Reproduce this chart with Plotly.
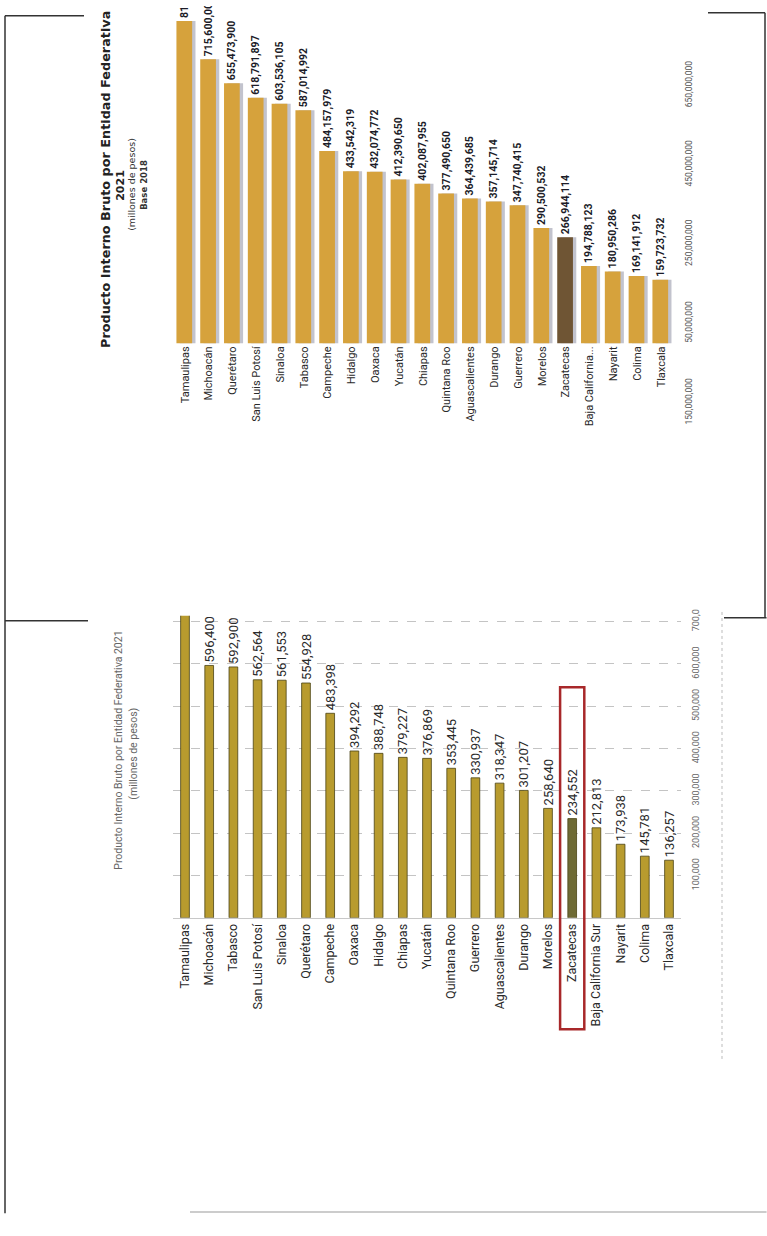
import plotly.graph_objects as go

W, H = 767, 1236

# ---------------- data ----------------
upper_states = ["Tamaulipas", "Michoacán", "Querétaro", "San Luis Potosí", "Sinaloa", "Tabasco",
                "Campeche", "Hidalgo", "Oaxaca", "Yucatán", "Chiapas", "Quintana Roo",
                "Aguascalientes", "Durango", "Guerrero", "Morelos", "Zacatecas",
                "Baja California...", "Nayarit", "Colima", "Tlaxcala"]
upper_values = [812000000, 715600000, 655473900, 618791897, 603536105, 587014992,
                484157979, 433542319, 432074772, 412390650, 402087955, 377490650,
                364439685, 357145714, 347740415, 290500532, 266944114,
                194788123, 180950286, 169141912, 159723732]
upper_tickvals = [-150000000, 50000000, 250000000, 450000000, 650000000, 850000000]
upper_ticktext = ["150,000,000", "50,000,000", "250,000,000", "450,000,000", "650,000,000", "850,000,000"]

lower_states = ["Tamaulipas", "Michoacán", "Tabasco", "San Luis Potosí", "Sinaloa", "Querétaro",
                "Campeche", "Oaxaca", "Hidalgo", "Chiapas", "Yucatán", "Quintana Roo",
                "Guerrero", "Aguascalientes", "Durango", "Morelos", "Zacatecas",
                "Baja California Sur", "Nayarit", "Colima", "Tlaxcala"]
lower_values = [718000, 596400, 592900, 562564, 561553, 554928,
                483398, 394292, 388748, 379227, 376869, 353445,
                330937, 318347, 301207, 258640, 234552,
                212813, 173938, 145781, 136257]
lower_tickvals = [100000, 200000, 300000, 400000, 500000, 600000, 700000]
lower_ticktext = ["100,000", "200,000", "300,000", "400,000", "500,000", "600,000", "700,0"]

highlight = "Zacatecas"

upper_title = "Producto Interno Bruto por Entidad Federativa"
upper_sub = ["2021", "(millones de pesos)", "Base 2018"]
lower_title = "Producto Interno Bruto por Entidad Federativa 2021"
lower_sub = "(millones de pesos)"

# ---------------- helpers (page pixels -> paper) ----------------
def px(x):
    return min(max(x / W, 0.0006), 0.9994)

def py(y):
    return min(max(1 - y / H, 0.0006), 0.9994)

up_colors = ["#6f5534" if s == highlight else "#d6a23c" for s in upper_states]
lo_colors = ["#6e6a34" if s == highlight else "#b89b2e" for s in lower_states]

fig = go.Figure()

fig.add_trace(go.Bar(
    x=upper_states, y=upper_values, xaxis="x", yaxis="y",
    width=0.66, offset=-0.22,
    marker=dict(color="rgba(120,122,145,0.45)", line=dict(width=0)),
    hoverinfo="skip", showlegend=False,
))
fig.add_trace(go.Bar(
    x=upper_states, y=upper_values, xaxis="x", yaxis="y",
    width=0.66, offset=-0.36,
    marker=dict(color=up_colors, line=dict(width=0)),
    texttemplate="%{y:,.0f}", textposition="outside", textangle=-90,
    constraintext="none", cliponaxis=True,
    textfont=dict(family="Roboto", size=10.5, color="#1c1c28", weight="bold"),
    showlegend=False,
))

fig.add_trace(go.Bar(
    x=lower_states, y=lower_values, xaxis="x2", yaxis="y2",
    width=0.36,
    marker=dict(color=lo_colors, line=dict(width=0.8, color="#4a4214")),
    texttemplate="%{y:,.0f}", textposition="outside", textangle=-90,
    constraintext="none", cliponaxis=True,
    textfont=dict(family="Roboto", size=13, color="#2a2a2a"),
    showlegend=False,
))

# upper value axis: 0 at page y=345, plot top at page y=0
up_top = 850000000
up_scale = 345 / (up_top / 1e6)          # px per million
up_bottom_y = 345 + 150 * up_scale

fig.update_layout(
    width=W, height=H,
    margin=dict(l=0, r=0, t=0, b=0),
    paper_bgcolor="white", plot_bgcolor="rgba(0,0,0,0)",
    barmode="overlay", showlegend=False, hovermode=False,
    xaxis=dict(
        domain=[px(173.1), px(672.9)], anchor="free", position=py(345),
        type="category", tickangle=-90, showgrid=False, showline=False, ticks="",
        tickfont=dict(family="Roboto", size=11, color="#2a2a2a"),
    ),
    yaxis=dict(
        domain=[py(up_bottom_y), 1.0], anchor="x", side="right",
        range=[-150000000, up_top],
        tickvals=upper_tickvals, ticktext=upper_ticktext, tickangle=-90,
        showgrid=False, zeroline=False, showline=False, ticks="",
        ticklabelstandoff=10,
        tickfont=dict(family="Roboto", size=8.5, color="#555"),
    ),
    xaxis2=dict(
        domain=[px(172.9), px(681.1)], anchor="y2",
        type="category", tickangle=-90, showgrid=False,
        showline=True, linecolor="#c8c8c8", linewidth=1, ticks="",
        tickfont=dict(family="Roboto", size=12.5, color="#2a2a2a"),
    ),
    yaxis2=dict(
        domain=[py(933), py(624)], anchor="x2", side="right",
        range=[0, 713600],
        tickvals=lower_tickvals, ticktext=lower_ticktext, tickangle=-90,
        showgrid=True, gridcolor="#c4c4c4", griddash="dash", gridwidth=1,
        zeroline=False, showline=False, ticks="",
        ticklabelstandoff=8,
        tickfont=dict(family="Roboto", size=9, color="#666"),
    ),
)

ann = []
def title_ann(text, x, y, family, size, color):
    ann.append(dict(text=text, x=px(x), y=py(y), xref="paper", yref="paper",
                    textangle=-90, showarrow=False, xanchor="center", yanchor="middle",
                    font=dict(family=family, size=size, color=color)))

title_ann("<b>" + upper_title + "</b>", 106, 178, "DejaVu Sans", 12.8, "#222")
title_ann("<b>" + upper_sub[0] + "</b>", 121, 184, "DejaVu Sans", 11, "#222")
title_ann(upper_sub[1], 132, 183, "DejaVu Sans", 9.5, "#333")
title_ann("<b>" + upper_sub[2] + "</b>", 144, 183, "DejaVu Sans", 8.5, "#333")
title_ann(lower_title, 119, 762, "Roboto", 10.5, "#666")
title_ann(lower_sub, 134, 765, "Roboto", 10.5, "#666")
fig.update_layout(annotations=ann)

shapes = []
def pline(x0, y0, x1, y1, color="#333", width=1.5, dash=None):
    d = dict(type="line", xref="paper", yref="paper", x0=px(x0), y0=py(y0), x1=px(x1), y1=py(y1),
             line=dict(color=color, width=width))
    if dash:
        d["line"]["dash"] = dash
    shapes.append(d)

pline(5, 10, 5, 1236)
pline(5, 10, 84, 10)
pline(5, 629, 88, 629)
pline(708, 7, 765, 7)
pline(765, 7, 765, 626)
pline(724, 626, 767, 626)
pline(722, 620, 722, 1080, color="#bbb", width=1, dash="dot")
pline(190, 1234, 767, 1234, color="#bbb", width=1.5)

hi_idx = lower_states.index(highlight)
shapes.append(dict(type="rect", xref="x2", yref="paper",
                   x0=hi_idx - 0.5, x1=hi_idx + 0.5, y0=py(1047), y1=py(697),
                   line=dict(color="#a8282a", width=2.5), fillcolor="rgba(0,0,0,0)"))
fig.update_layout(shapes=shapes)

fig.write_html("out.html", config={"displayModeBar": False},
               post_script="document.body.style.margin='0px';")
